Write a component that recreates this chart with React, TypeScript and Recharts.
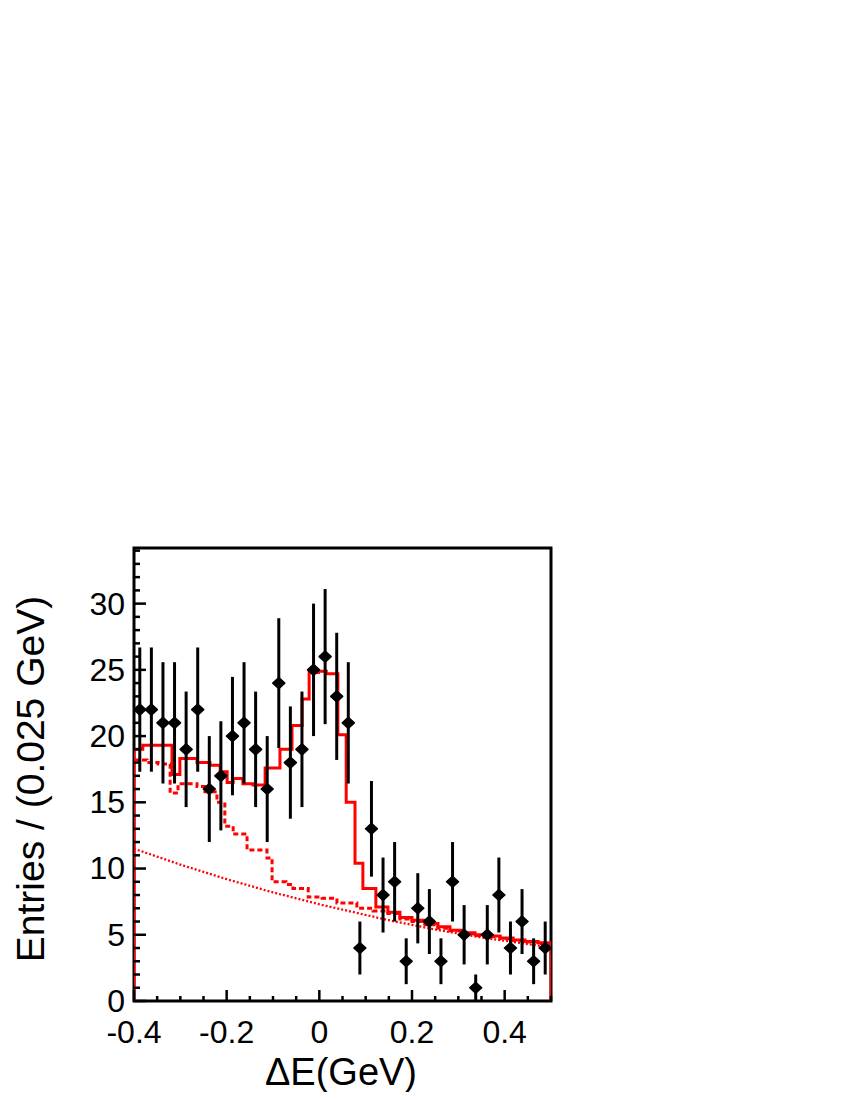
import React from 'react';
import { ComposedChart, Line, Scatter, XAxis, YAxis, ErrorBar, ReferenceArea, Label } from 'recharts';

// Data points: bin centres of ΔE (GeV), entries and their errors
const binCenters = [
  -0.3875, -0.3625, -0.3375, -0.3125, -0.2875, -0.2625, -0.2375, -0.2125, -0.1875, -0.1625,
  -0.1375, -0.1125, -0.0875, -0.0625, -0.0375, -0.0125, 0.0125, 0.0375, 0.0625, 0.0875,
  0.1125, 0.1375, 0.1625, 0.1875, 0.2125, 0.2375, 0.2625, 0.2875, 0.3125, 0.3375,
  0.3625, 0.3875, 0.4125, 0.4375, 0.4625, 0.4875,
];
const counts = [
  22, 22, 21, 21, 19, 22, 16, 17, 20, 21,
  19, 16, 24, 18, 19, 25, 26, 23, 21, 4,
  13, 8, 9, 3, 7, 6, 3, 9, 5, 1,
  5, 8, 4, 6, 3, 4,
];
const countErrors = [
  4.69, 4.69, 4.58, 4.58, 4.36, 4.69, 4.0, 4.12, 4.47, 4.58,
  4.36, 4.0, 4.9, 4.24, 4.36, 5.0, 5.1, 4.8, 4.58, 2.0,
  3.61, 2.83, 3.0, 1.73, 2.65, 2.45, 1.73, 3.0, 2.24, 1.0,
  2.24, 2.83, 2.0, 2.45, 1.73, 2.0,
];

// Total fit (solid step curve): left edges and heights
const totalEdges = [
  -0.4, -0.381, -0.318, -0.301, -0.264, -0.236, -0.214, -0.199, -0.186, -0.165,
  -0.143, -0.117, -0.085, -0.059, -0.037, -0.022, -0.002, 0.015, 0.040, 0.058,
  0.077, 0.094, 0.122, 0.148, 0.174, 0.200, 0.228, 0.256, 0.282, 0.310,
  0.336, 0.364, 0.390, 0.418, 0.444, 0.472,
];
const totalValues = [
  19.0, 19.3, 17.1, 18.3, 18.0, 17.8, 17.3, 16.5, 16.8, 16.4,
  16.3, 17.6, 19.0, 20.8, 22.8, 24.8, 24.9, 24.7, 20.1, 15.0,
  10.4, 8.5, 7.1, 6.7, 6.3, 6.1, 5.85, 5.6, 5.35, 5.15,
  5.0, 4.9, 4.75, 4.6, 4.5, 4.4,
];

// Background (dashed step curve)
const bkgEdges = [
  -0.4, -0.372, -0.348, -0.322, -0.305, -0.264, -0.247, -0.221, -0.204, -0.186,
  -0.156, -0.113, -0.102, -0.072, -0.057, -0.024, 0.006, 0.038, 0.081, 0.116,
  0.148, 0.174, 0.200, 0.228, 0.256, 0.282, 0.310, 0.336, 0.364, 0.390,
  0.418, 0.444, 0.472,
];
const bkgValues = [
  18.2, 18.0, 17.9, 15.7, 16.4, 16.2, 15.8, 15.0, 13.2, 12.6,
  11.4, 10.8, 9.0, 8.8, 8.5, 7.85, 7.75, 7.4, 7.0, 6.8,
  6.6, 6.2, 6.0, 5.75, 5.5, 5.3, 5.1, 4.95, 4.85, 4.7,
  4.55, 4.45, 4.35,
];

// Combinatorial background (dotted smooth curve)
const combX = [
  -0.4, -0.35, -0.3, -0.25, -0.2, -0.15, -0.1, -0.05, 0.0, 0.05,
  0.1, 0.15, 0.2, 0.25, 0.3, 0.35, 0.4, 0.45, 0.5,
];
const combY = [
  11.5, 10.9, 10.3, 9.75, 9.2, 8.7, 8.2, 7.75, 7.3, 6.9,
  6.5, 6.1, 5.75, 5.4, 5.1, 4.8, 4.55, 4.3, 4.05,
];

const xTicks = [
  -0.4, -0.35, -0.3, -0.25, -0.2, -0.15, -0.1, -0.05, 0, 0.05,
  0.1, 0.15, 0.2, 0.25, 0.3, 0.35, 0.4, 0.45, 0.5,
];
const xLabelValues = [-0.4, -0.2, 0, 0.2, 0.4];
const xLabelTexts = ['-0.4', '-0.2', '0', '0.2', '0.4'];
const yTicks = [
  0, 1, 2, 3, 4, 5, 6, 7, 8, 9, 10, 11, 12, 13, 14, 15, 16, 17,
  18, 19, 20, 21, 22, 23, 24, 25, 26, 27, 28, 29, 30, 31, 32, 33, 34,
];
const yLabelValues = [0, 5, 10, 15, 20, 25, 30];

const X_MIN = -0.4;
const X_MAX = 0.5;
const Y_MAX = 34.2;
const FONT = '"Liberation Sans", Arial, Helvetica, sans-serif';
const RED = '#ff0000';

const pointsData = binCenters.map((x, i) => ({ x, y: counts[i], err: countErrors[i] }));
const totalData = [
  { x: X_MIN, y: 0 },
  ...totalEdges.map((x, i) => ({ x, y: totalValues[i] })),
  { x: X_MAX, y: totalValues[totalValues.length - 1] },
  { x: X_MAX, y: 0 },
];
const bkgData = [
  ...bkgEdges.map((x, i) => ({ x, y: bkgValues[i] })),
  { x: X_MAX, y: bkgValues[bkgValues.length - 1] },
];
const combData = combX.map((x, i) => ({ x, y: combY[i] }));

const near = (a: number, b: number) => Math.abs(a - b) < 1e-6;

const XTick = (props: any) => {
  const { x, y, payload } = props;
  const v = payload.value;
  const idx = xLabelValues.findIndex((lv) => near(lv, v));
  const major = idx >= 0;
  return (
    <g>
      <line x1={x} x2={x} y1={y} y2={y - (major ? 11 : 5)} stroke="#000" strokeWidth={2.5} />
      {major && (
        <text x={x} y={y + 42} textAnchor="middle" fontSize={32} fontFamily={FONT} fill="#000">
          {xLabelTexts[idx]}
        </text>
      )}
    </g>
  );
};

const YTick = (props: any) => {
  const { x, y, payload } = props;
  const v = payload.value;
  const major = yLabelValues.includes(v);
  return (
    <g>
      <line x1={x} x2={x + (major ? 12 : 6)} y1={y} y2={y} stroke="#000" strokeWidth={2.5} />
      {major && (
        <text x={x - 9} y={y} dy="0.34em" textAnchor="end" fontSize={32} fontFamily={FONT} fill="#000">
          {v}
        </text>
      )}
    </g>
  );
};

const Diamond = (props: any) => {
  const { cx, cy } = props;
  if (cx == null || cy == null) return null;
  const w = 6;
  const h = 5.5;
  return (
    <path
      d={`M${cx - w},${cy} L${cx},${cy - h} L${cx + w},${cy} L${cx},${cy + h} Z`}
      fill="#000"
      stroke="#000"
      strokeWidth={1.5}
      strokeLinejoin="round"
    />
  );
};

export default function App() {
  return (
    <ComposedChart
      width={834}
      height={1084}
      margin={{ top: 540, right: 291, bottom: 51, left: 46 }}
      style={{ overflow: 'visible' }}
    >
      <XAxis
        dataKey="x"
        type="number"
        domain={[X_MIN, X_MAX]}
        ticks={xTicks}
        interval={0}
        allowDataOverflow
        axisLine={false}
        tickLine={false}
        tickSize={0}
        tickMargin={0}
        height={40}
        tick={<XTick />}
      >
        <Label
          content={() => (
            <text x={333} y={1077} textAnchor="middle" fontSize={38} fontFamily={FONT} fill="#000">
              ΔE(GeV)
            </text>
          )}
        />
      </XAxis>
      <YAxis
        dataKey="y"
        type="number"
        domain={[0, Y_MAX]}
        ticks={yTicks}
        interval={0}
        allowDataOverflow
        axisLine={false}
        tickLine={false}
        tickSize={0}
        tickMargin={0}
        width={80}
        tick={<YTick />}
      >
        <Label
          content={() => (
            <text
              transform="translate(36,771) rotate(-90)"
              textAnchor="middle"
              fontSize={39}
              fontFamily={FONT}
              fill="#000"
            >
              Entries / (0.025 GeV)
            </text>
          )}
        />
      </YAxis>
      <ReferenceArea
        x1={X_MIN}
        x2={X_MAX}
        y1={0}
        y2={Y_MAX}
        fill="none"
        fillOpacity={0}
        stroke="#000"
        strokeWidth={3}
        ifOverflow="extendDomain"
      />
      <Line
        data={combData}
        dataKey="y"
        type="monotone"
        stroke={RED}
        strokeWidth={2.3}
        strokeDasharray="2 2"
        dot={false}
        activeDot={false}
        isAnimationActive={false}
      />
      <Line
        data={bkgData}
        dataKey="y"
        type="stepAfter"
        stroke={RED}
        strokeWidth={3}
        strokeDasharray="5 3"
        dot={false}
        activeDot={false}
        isAnimationActive={false}
      />
      <Line
        data={totalData}
        dataKey="y"
        type="stepAfter"
        stroke={RED}
        strokeWidth={3}
        dot={false}
        activeDot={false}
        isAnimationActive={false}
      />
      <Scatter
        data={pointsData}
        dataKey="y"
        shape={<Diamond />}
        isAnimationActive={false}
      >
        <ErrorBar dataKey="err" direction="y" width={0} stroke="#000" strokeWidth={3} />
      </Scatter>
    </ComposedChart>
  );
}
